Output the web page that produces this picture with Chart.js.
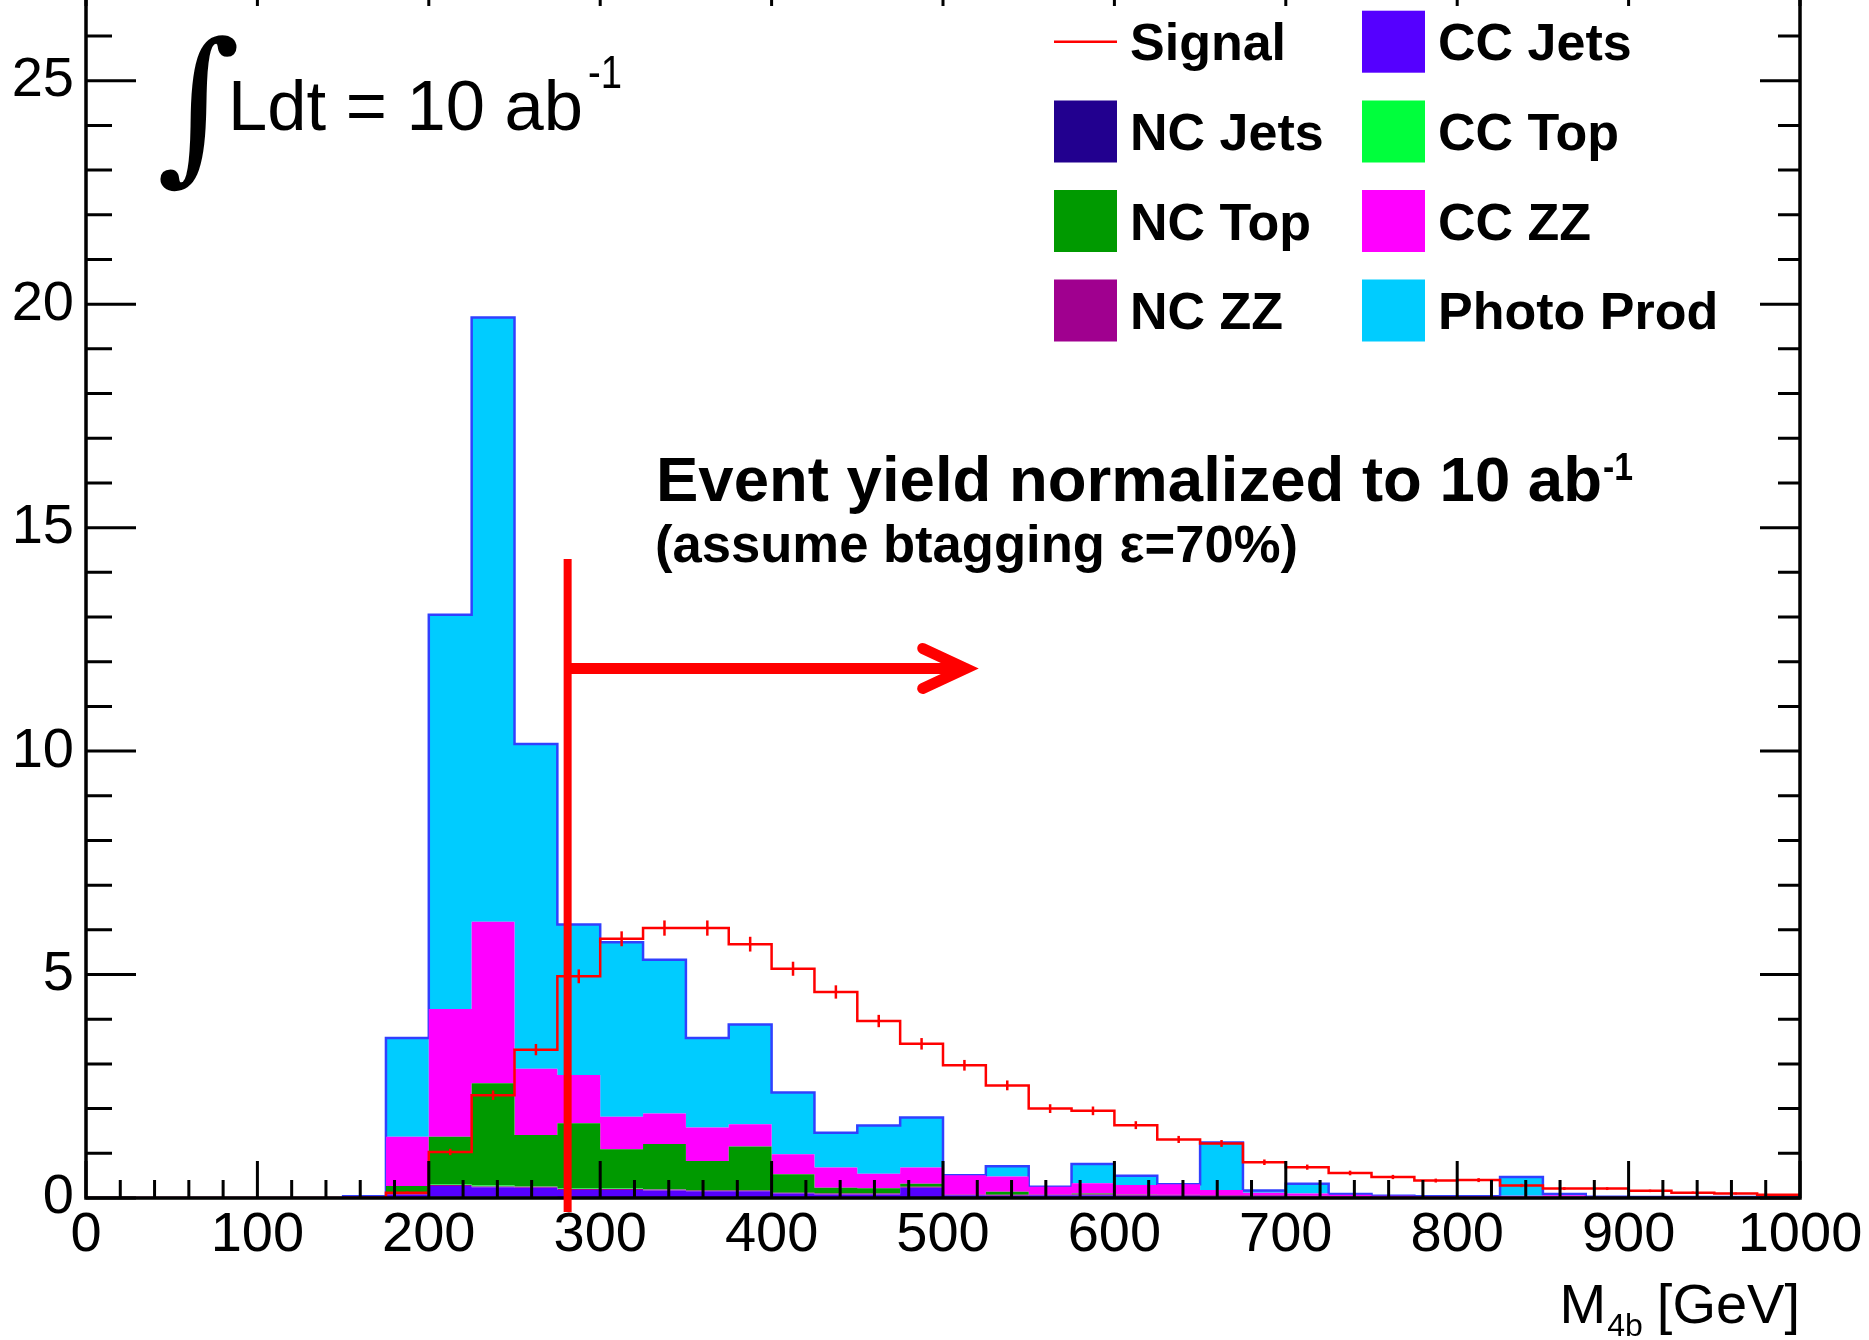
<!DOCTYPE html>
<html>
<head>
<meta charset="utf-8">
<title>M4b stacked backgrounds</title>
<script src="https://cdn.jsdelivr.net/npm/chart.js@4.4.1/dist/chart.umd.min.js"></script>
<style>
  html, body { margin: 0; padding: 0; background: #fff; overflow: hidden; }
  #wrap { position: absolute; left: 0; top: -40px; }
</style>
</head>
<body>
<div id="wrap"><canvas id="m4b" width="1869" height="1380"></canvas></div>
<script>
// canvas sits 40px above the page so the top of the frame is cut off like the original
var OFF = 40;

// 25 GeV bins, low edges
var binLow = [0, 25, 50, 75, 100, 125, 150, 175, 200, 225,
              250, 275, 300, 325, 350, 375, 400, 425, 450, 475,
              500, 525, 550, 575, 600, 625, 650, 675, 700, 725,
              750, 775, 800, 825, 850, 875, 900, 925, 950, 975];
var binWidth = 25;
var xRange = [0, 1000];
var yRange = [0, 27.5];

// background contributions per bin (stacked bottom -> top)
var ncJets = [0, 0, 0, 0, 0, 0, 0, 0.02, 0.03, 0.03, 0.03, 0.02, 0.02, 0.02, 0.02, 0.02,
              0.01, 0.01, 0.01, 0.01, 0.01, 0.01, 0.01, 0.01, 0.01, 0.01,
              0.01, 0.01, 0.01, 0.01, 0.01, 0, 0, 0.01, 0.01, 0, 0, 0, 0, 0];
var ccJets = [0, 0, 0, 0, 0, 0, 0, 0.05, 0.24, 0.21, 0.20, 0.16, 0.16, 0.15, 0.13, 0.13,
              0.09, 0.07, 0.07, 0.22, 0.05, 0.04, 0.05, 0.05, 0.04, 0.04,
              0.03, 0.03, 0.02, 0.02, 0.01, 0.01, 0.01, 0.01, 0.02, 0.01, 0.01, 0.01, 0.01, 0.01];
var ncZZ   = [0, 0, 0, 0, 0, 0, 0.04, 0.03, 0.02, 0.02, 0.02, 0.02, 0.02, 0.02, 0.02, 0.02,
              0.02, 0.02, 0.02, 0.02, 0.02, 0.02, 0.02, 0.02, 0.02, 0.02,
              0.02, 0.02, 0.02, 0.01, 0.01, 0.01, 0.01, 0.01, 0.01, 0.01, 0.01, 0.01, 0.01, 0.01];
var ccTop  = [0, 0, 0, 0, 0, 0, 0, 0, 0.01, 0.02, 0.01, 0.01, 0.01, 0.01, 0, 0,
              0, 0, 0, 0, 0, 0, 0, 0, 0, 0,
              0, 0, 0, 0, 0, 0, 0, 0, 0, 0, 0, 0, 0, 0];
var ncTop  = [0, 0, 0, 0, 0, 0, 0, 0.17, 1.07, 2.29, 1.15, 1.46, 0.88, 1.01, 0.66, 0.98,
              0.41, 0.13, 0.12, 0.07, 0, 0.07, 0, 0.02, 0.01, 0,
              0, 0, 0, 0, 0, 0, 0, 0, 0, 0, 0, 0, 0, 0];
var ccZZ   = [0, 0, 0, 0, 0, 0, 0, 1.10, 2.86, 3.61, 1.48, 1.08, 0.73, 0.68, 0.75, 0.50,
              0.45, 0.45, 0.32, 0.36, 0.43, 0.34, 0.17, 0.23, 0.21, 0.24,
              0.12, 0.06, 0.05, 0.03, 0.02, 0.02, 0.02, 0.02, 0.02, 0.01, 0, 0, 0, 0];
var photoProd = [0, 0, 0, 0, 0, 0, 0, 2.21, 8.82, 13.52, 7.27, 3.37, 3.90, 3.44, 2.00, 2.23,
              1.38, 0.78, 1.08, 1.12, 0, 0.23, 0, 0.43, 0.21, 0,
              1.06, 0.05, 0.22, 0.02, 0, 0, 0, 0.42, 0.03, 0, 0, 0, 0, 0];

// signal
var signal = [0, 0, 0, 0, 0, 0, 0, 0.12, 1.03, 2.30, 3.32, 4.96, 5.80, 6.04, 6.04, 5.68,
              5.13, 4.61, 3.96, 3.45, 2.97, 2.52, 2.00, 1.95, 1.63, 1.31,
              1.22, 0.80, 0.69, 0.56, 0.47, 0.39, 0.40, 0.28, 0.21, 0.21, 0.16, 0.12, 0.10, 0.07];

// cut annotation, in axis units
var cutX = 281, cutTop = 14.3, arrowY = 11.85, arrowTip = 515;

var legendCol1 = ['Signal', 'NC Jets', 'NC Top', 'NC ZZ'];
var legendCol2 = ['CC Jets', 'CC Top', 'CC ZZ', 'Photo Prod'];

Chart.defaults.font.family = "'Liberation Sans', Arial, Helvetica, sans-serif";
Chart.defaults.color = '#000';

// histogram outline: value of bin i held from its low edge to the next edge
function steps(vals) {
    var pts = binLow.map(function(x, i) { return { x: x, y: vals[i] }; });
    pts.push({ x: xRange[1], y: vals[vals.length - 1] });
    return pts;
}

function bkg(label, vals, color, first) {
    return {
        label: label,
        data: steps(vals),
        stepped: 'before',
        fill: first ? 'origin' : '-1',
        backgroundColor: color,
        borderColor: 'rgba(0,0,0,0)',
        borderWidth: 1,
        pointRadius: 0,
        stack: 'bkg',
        order: 2
    };
}

var datasets = [
    bkg('NC Jets', ncJets, '#22008f', true),
    bkg('CC Jets', ccJets, '#5500ff'),
    bkg('NC ZZ', ncZZ, '#a0008f'),
    bkg('CC Top', ccTop, '#00ff3c'),
    bkg('NC Top', ncTop, '#009a00'),
    bkg('CC ZZ', ccZZ, '#ff00ff'),
    bkg('Photo Prod', photoProd, '#00ccff'),
    {
        label: 'Signal',
        data: steps(signal),
        stepped: 'before',
        fill: false,
        borderColor: '#ff0000',
        backgroundColor: '#ff0000',
        borderWidth: 2.5,
        pointRadius: 0,
        stack: 'sig',
        order: 0
    },
    {
        label: 'Signal errors',
        data: binLow.map(function(x, i) { return { x: x + binWidth / 2, y: signal[i] }; }),
        showLine: false,
        pointStyle: 'line',
        rotation: 90,
        pointRadius: function(c) { return c.raw ? 3.1 * Math.sqrt(c.raw.y) : 0; },
        pointBorderColor: '#ff0000',
        pointBorderWidth: 2.5,
        stack: 'err',
        order: 0
    }
];
// photo prod carries the blue outline of the whole stack
datasets[6].borderColor = '#3040ff';
datasets[6].borderWidth = 2.5;

function colorOf(chart, label) {
    var d = chart.data.datasets.find(function(ds) { return ds.label === label; });
    return d.backgroundColor;
}

// stretch a string to a given width when needed
function putText(ctx, str, x, y, font, width) {
    ctx.font = font;
    var w = ctx.measureText(str).width;
    ctx.save();
    ctx.translate(x, y);
    if (width) ctx.scale(width / w, 1);
    ctx.fillText(str, 0, 0);
    ctx.restore();
}

function noPadding(s) {
    s.paddingTop = 0; s.paddingBottom = 0; s.paddingLeft = 0; s.paddingRight = 0;
}

var rootFrame = {
    id: 'rootFrame',
    afterDatasetsDraw: function(chart) {
        var ctx = chart.ctx, a = chart.chartArea, xs = chart.scales.x, ys = chart.scales.y;
        ctx.save();
        ctx.strokeStyle = '#000';
        ctx.lineWidth = 3;
        ctx.beginPath();
        for (var v = 0; v <= yRange[1]; v += 1) {
            var py = ys.getPixelForValue(v), major = v % 5 === 0;
            ctx.moveTo(a.left, py); ctx.lineTo(a.left + (major ? 50 : 26), py);
            ctx.moveTo(a.right, py); ctx.lineTo(a.right - (major ? 40 : 22), py);
        }
        for (var g = xRange[0]; g <= xRange[1]; g += 20) {
            var px = xs.getPixelForValue(g), maj = g % 100 === 0;
            ctx.moveTo(px, a.bottom); ctx.lineTo(px, a.bottom - (maj ? 37 : 18));
            ctx.moveTo(px, a.top); ctx.lineTo(px, a.top + (maj ? 37 : 18));
        }
        ctx.stroke();
        ctx.lineWidth = 3.5;
        ctx.strokeRect(a.left, a.top, a.width, a.height);
        ctx.restore();
    },
    afterDraw: function(chart) {
        var ctx = chart.ctx, xs = chart.scales.x, ys = chart.scales.y, a = chart.chartArea;
        ctx.save();

        // cut line and arrow
        var cx = xs.getPixelForValue(cutX);
        ctx.strokeStyle = '#ff0000';
        ctx.lineCap = 'butt';
        ctx.lineWidth = 8;
        ctx.beginPath();
        ctx.moveTo(cx, a.bottom + 14);
        ctx.lineTo(cx, ys.getPixelForValue(cutTop));
        ctx.stroke();
        var ay = ys.getPixelForValue(arrowY), tip = xs.getPixelForValue(arrowTip);
        ctx.lineWidth = 11;
        ctx.beginPath();
        ctx.moveTo(cx, ay);
        ctx.lineTo(tip - 4, ay);
        ctx.stroke();
        ctx.lineCap = 'round';
        ctx.lineJoin = 'miter';
        ctx.beginPath();
        ctx.moveTo(tip - 46, ay - 20);
        ctx.lineTo(tip - 3, ay);
        ctx.lineTo(tip - 46, ay + 20);
        ctx.stroke();

        // texts
        ctx.fillStyle = '#000';
        ctx.textAlign = 'left';
        ctx.textBaseline = 'alphabetic';
        putText(ctx, 'Event yield normalized to 10 ab', 656, 501 + OFF, 'bold 63px "Liberation Sans"', 946);
        putText(ctx, '-1', 1603, 480 + OFF, 'bold 39px "Liberation Sans"', 30);
        putText(ctx, '(assume btagging \u03b5=70%)', 655, 562 + OFF, 'bold 51px "Liberation Sans"', 643);

        // luminosity label
        ctx.font = '100px "DejaVu Serif"';
        var m = ctx.measureText('\u222b');
        var gw = m.actualBoundingBoxLeft + m.actualBoundingBoxRight;
        var gh = m.actualBoundingBoxAscent + m.actualBoundingBoxDescent;
        ctx.save();
        ctx.translate(160, 35 + OFF);
        ctx.scale(77 / gw, 158 / gh);
        ctx.fillText('\u222b', m.actualBoundingBoxLeft, m.actualBoundingBoxAscent);
        ctx.restore();
        putText(ctx, 'Ldt = 10 ab', 228, 130 + OFF, '70px "Liberation Sans"', 355);
        putText(ctx, '-1', 588, 88 + OFF, '46px "Liberation Sans"', 34);

        // x axis title, right aligned to the frame
        ctx.font = '56px "Liberation Sans"';
        var wG = ctx.measureText('[GeV]').width;
        var xG = a.right - wG;
        ctx.fillText('[GeV]', xG, 1323 + OFF);
        ctx.font = '32px "Liberation Sans"';
        var w4 = ctx.measureText('4b').width;
        ctx.fillText('4b', xG - 14 - w4, 1336 + OFF);
        ctx.font = '56px "Liberation Sans"';
        var wM = ctx.measureText('M').width;
        ctx.fillText('M', xG - 14 - w4 - 1 - wM, 1323 + OFF);

        // legend
        var rows = [41.7, 131.5, 221, 310.5];
        var cols = [{ sx: 1054, tx: 1130, items: legendCol1 }, { sx: 1362, tx: 1438, items: legendCol2 }];
        ctx.font = 'bold 52px "Liberation Sans"';
        cols.forEach(function(col) {
            col.items.forEach(function(label, r) {
                var cy = rows[r] + OFF;
                if (label === 'Signal') {
                    ctx.strokeStyle = '#ff0000';
                    ctx.lineWidth = 2.5;
                    ctx.lineCap = 'butt';
                    ctx.beginPath();
                    ctx.moveTo(col.sx, cy);
                    ctx.lineTo(col.sx + 63, cy);
                    ctx.stroke();
                } else {
                    ctx.fillStyle = colorOf(chart, label);
                    ctx.fillRect(col.sx, cy - 31, 63, 62);
                }
                ctx.fillStyle = '#000';
                ctx.fillText(label, col.tx, cy + 18.6);
            });
        });
        ctx.restore();
    }
};

var chart = new Chart(document.getElementById('m4b').getContext('2d'), {
    type: 'line',
    data: { datasets: datasets },
    options: {
        responsive: false,
        animation: false,
        events: [],
        layout: { padding: { top: 9, right: 69, left: 0, bottom: 0 } },
        plugins: { legend: { display: false }, tooltip: { enabled: false } },
        scales: {
            x: {
                type: 'linear',
                min: xRange[0],
                max: xRange[1],
                grid: { display: false, drawTicks: false },
                border: { display: false },
                ticks: {
                    stepSize: 100, padding: 4, autoSkip: false, maxRotation: 0,
                    font: { size: 56 }, color: '#000',
                    callback: function(v) { return String(v); }
                },
                afterFit: function(s) { s.height = 142; noPadding(s); }
            },
            y: {
                type: 'linear',
                stacked: true,
                min: yRange[0],
                max: yRange[1],
                grid: { display: false, drawTicks: false },
                border: { display: false },
                ticks: { stepSize: 5, padding: 12, includeBounds: false, font: { size: 56 }, color: '#000' },
                afterFit: function(s) { s.width = 86; noPadding(s); }
            }
        }
    },
    plugins: [rootFrame]
});
</script>
</body>
</html>
